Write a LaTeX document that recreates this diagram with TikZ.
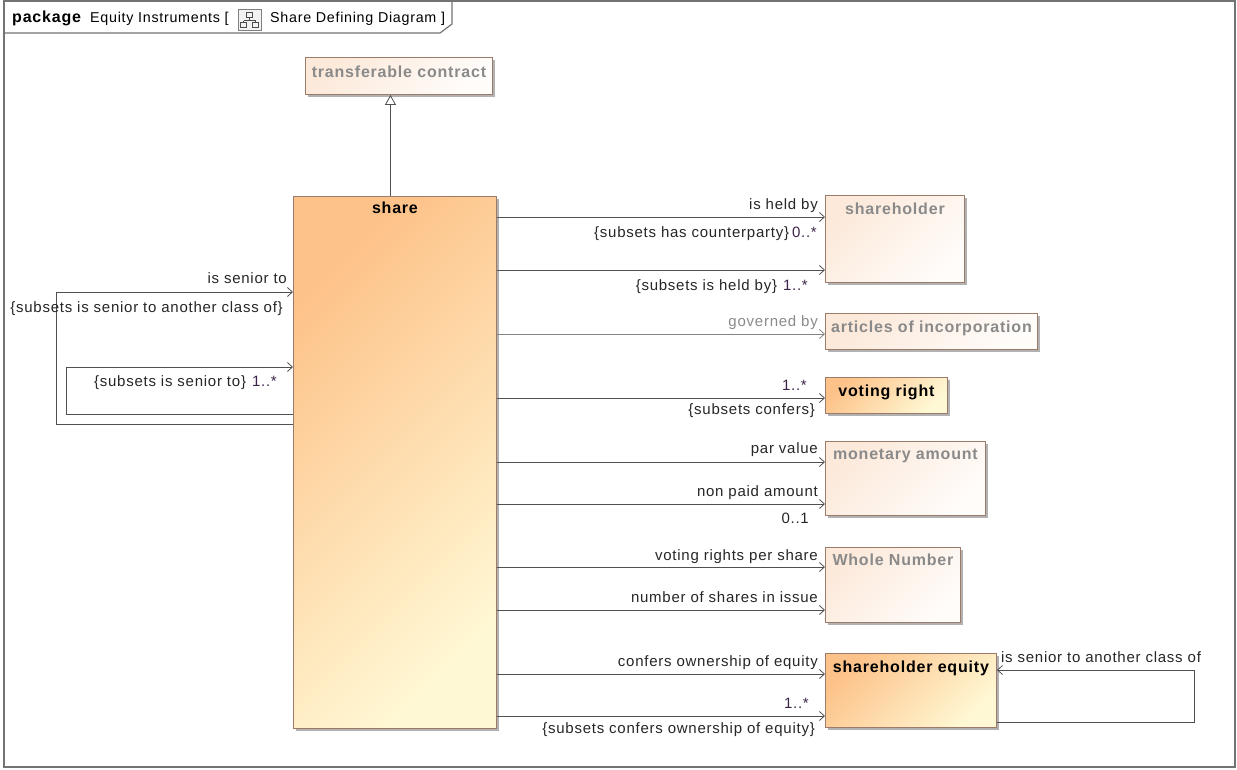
\documentclass[tikz,border=0pt]{standalone}
\usepackage{fontspec}
\setmainfont{Liberation Sans}[LetterSpace=5]
\usetikzlibrary{arrows.meta,positioning,shadows}

\definecolor{umlline}{HTML}{505050}
\definecolor{umlbrown}{HTML}{9C7B6B}
\definecolor{paleA}{HTML}{FCE9DA}
\definecolor{paleB}{HTML}{FFFCFA}
\definecolor{orngA}{HTML}{FDC289}
\definecolor{orngB}{HTML}{FFF8D4}
\definecolor{greytxt}{HTML}{8A8A8A}
\definecolor{multtxt}{HTML}{3C2448}

\newcommand\umlfont{\fontsize{15}{17}\selectfont}
\newcommand\umlbold{\fontsize{16}{18}\selectfont\bfseries}
\newcommand\headfont{\fontsize{14.3}{17}\selectfont}

\tikzset{
classbox/.style={
  draw=umlbrown, line width=0.9pt,
  anchor=north west, inner sep=0pt,
  drop shadow={shadow xshift=3pt, shadow yshift=-3pt, fill=black!30, opacity=1}
  },
paleclass/.style={classbox, top color=paleA, bottom color=paleB, shading angle=45},
orngclass/.style={classbox, top color=orngA, bottom color=orngB, shading angle=45},
cname/.style={anchor=base, inner sep=0pt, font=\umlbold},
lab/.style={inner sep=0pt, anchor=base east, font=\umlfont, text=black!85},
mult/.style={text=multtxt}
}
\tikzset{
assoc/.style={draw=umlline, line width=0.8pt, -{Straight Barb[length=5pt,width=9pt]}},
gen/.style={draw=umlline, line width=0.8pt, -{Triangle[open,length=10pt,width=11pt,fill=white]}},
frame/.style={draw=black!55, line width=1.2pt}
}

\begin{document}
\begin{tikzpicture}[x=1pt,y=-1pt]
\useasboundingbox (0,0) rectangle (1237,769);

\draw[frame] (4,1) rectangle (1235,767);
\draw[frame] (4,33) -- (440,33) -- (452,24) -- (452,1);
\node[anchor=base west, inner sep=0pt, font=\umlbold] (pkg) at (12,22) {package};
\node[anchor=base west, inner sep=0pt, font=\headfont] (pkgname) at (90,22) {Equity Instruments [};
\node[draw=black!50, fill=black!5, anchor=north west, minimum width=23pt, minimum height=21pt, inner sep=0pt] (icon) at (238,9) {};
\node[anchor=base west, inner sep=0pt, font=\headfont] (diagname) at (270,22) {Share Defining Diagram ]};
\draw[black!70, line width=0.7pt] (icon.center) ++(-3,-7) rectangle ++(6,5)
  (icon.center) ++(0,-2) -- ++(0,3) ++(-6,0) -- ++(12,0) ++(-12,0) -- ++(0,2) ++(12,0) -- ++(0,-2)
  (icon.center) ++(-9,3) rectangle ++(6,5) (icon.center) ++(3,3) rectangle ++(6,5);

\node[orngclass, minimum width=203pt, minimum height=532pt] (share) at (293,196) {};
\node[cname] (share-t) at ([yshift=-17pt]share.north) {share};

\node[paleclass, minimum width=187pt, minimum height=37pt] (trans) at (305,57) {};
\node[cname, text=greytxt] (trans-t) at ([yshift=-20pt]trans.north) {transferable contract};

\node[paleclass, minimum width=139pt, minimum height=87pt] (holder) at (825,195) {};
\node[cname, text=greytxt] (holder-t) at ([yshift=-19pt]holder.north) {shareholder};

\node[paleclass, minimum width=212pt, minimum height=36pt] (articles) at (825,313) {};
\node[cname, text=greytxt] (articles-t) at ([yshift=-19pt]articles.north) {articles of incorporation};

\node[orngclass, minimum width=122pt, minimum height=36pt] (vright) at (825,377) {};
\node[cname] (vright-t) at ([yshift=-19pt]vright.north) {voting right};

\node[paleclass, minimum width=160pt, minimum height=74pt] (money) at (825,441) {};
\node[cname, text=greytxt] (money-t) at ([yshift=-18pt]money.north) {monetary amount};

\node[paleclass, minimum width=135pt, minimum height=75pt] (wnum) at (825,547) {};
\node[cname, text=greytxt] (wnum-t) at ([yshift=-18pt]wnum.north) {Whole Number};

\node[orngclass, minimum width=171pt, minimum height=74pt] (equity) at (825,653) {};
\node[cname] (equity-t) at ([yshift=-19pt]equity.north) {shareholder equity};

\begin{scope}
\coordinate(start) at ([xshift=-4.5pt]share.north);
\coordinate(end) at (start |- trans.south);
\draw[gen] (start) -- (end);
\end{scope}

\begin{scope}
\coordinate(start) at (share.west |- 0,424);
\coordinate(end) at (share.west |- 0,292);
\draw[assoc] (start) -- ++(-237,0) |- (end);
\node[lab] (sen1) at ([xshift=-6pt,yshift=9pt]end) {is senior to};
\node[lab] (sen2) at ([xshift=-10pt,yshift=-20pt]end) {\{subsets is senior to another class of\}};
\end{scope}

\begin{scope}
\coordinate(start) at (share.west |- 0,414);
\coordinate(end) at (share.west |- 0,367);
\draw[assoc] (start) -- ++(-227,0) |- (end);
\node[lab] (sen3) at ([xshift=-16pt,yshift=-19pt]end) {\{subsets is senior to\}\hspace{6pt}\textcolor{multtxt}{1..*}};
\end{scope}

\begin{scope}
\coordinate(start) at (share.east |- 0,217);
\coordinate(end) at (holder.west |- start);
\draw[assoc] (start) -- (end);
\node[lab] (hold1) at ([xshift=-7pt,yshift=8pt]end) {is held by};
\node[lab] (hold2) at ([xshift=-8pt,yshift=-20pt]end) {\{subsets has counterparty\}\hspace{3pt}\textcolor{multtxt}{0..*}};
\end{scope}

\begin{scope}
\coordinate(start) at (share.east |- 0,270);
\coordinate(end) at (holder.west |- start);
\draw[assoc] (start) -- (end);
\node[lab] (hold3) at ([xshift=-17pt,yshift=-20pt]end) {\{subsets is held by\}\hspace{6pt}\textcolor{multtxt}{1..*}};
\end{scope}

\begin{scope}
\coordinate(start) at (share.east |- 0,334);
\coordinate(end) at (articles.west |- start);
\draw[assoc, draw=umlline!70] (start) -- (end);
\node[lab, text=greytxt] (gov) at ([xshift=-7pt,yshift=8pt]end) {governed by};
\end{scope}

\begin{scope}
\coordinate(start) at (share.east |- 0,398);
\coordinate(end) at (vright.west |- start);
\draw[assoc] (start) -- (end);
\node[lab, mult] (vr1) at ([xshift=-18pt,yshift=8pt]end) {1..*};
\node[lab] (vr2) at ([xshift=-10pt,yshift=-16pt]end) {\{subsets confers\}};
\end{scope}

\begin{scope}
\coordinate(start) at (share.east |- 0,462);
\coordinate(end) at (money.west |- start);
\draw[assoc] (start) -- (end);
\node[lab] (par) at ([xshift=-7pt,yshift=9pt]end) {par value};
\end{scope}

\begin{scope}
\coordinate(start) at (share.east |- 0,504);
\coordinate(end) at (money.west |- start);
\draw[assoc] (start) -- (end);
\node[lab] (npa) at ([xshift=-7pt,yshift=8pt]end) {non paid amount};
\node[lab] (npa2) at ([xshift=-16pt,yshift=-19pt]end) {0..1};
\end{scope}

\begin{scope}
\coordinate(start) at (share.east |- 0,567);
\coordinate(end) at (wnum.west |- start);
\draw[assoc] (start) -- (end);
\node[lab] (vrps) at ([xshift=-7pt,yshift=7pt]end) {voting rights per share};
\end{scope}

\begin{scope}
\coordinate(start) at (share.east |- 0,610);
\coordinate(end) at (wnum.west |- start);
\draw[assoc] (start) -- (end);
\node[lab] (nsi) at ([xshift=-7pt,yshift=8pt]end) {number of shares in issue};
\end{scope}

\begin{scope}
\coordinate(start) at (share.east |- 0,674);
\coordinate(end) at (equity.west |- start);
\draw[assoc] (start) -- (end);
\node[lab] (coe) at ([xshift=-7pt,yshift=8pt]end) {confers ownership of equity};
\end{scope}

\begin{scope}
\coordinate(start) at (share.east |- 0,716);
\coordinate(end) at (equity.west |- start);
\draw[assoc] (start) -- (end);
\node[lab, mult] (coe2) at ([xshift=-16pt,yshift=8pt]end) {1..*};
\node[lab] (coe3) at ([xshift=-10pt,yshift=-17pt]end) {\{subsets confers ownership of equity\}};
\end{scope}

\begin{scope}
\coordinate(start) at (equity.east |- 0,722);
\coordinate(end) at (equity.east |- 0,670);
\draw[assoc] (start) -- ++(197,0) |- (end);
\node[lab, anchor=base west] (eqs) at ([xshift=4pt,yshift=8pt]end) {is senior to another class of};
\end{scope}

\end{tikzpicture}
\end{document}
